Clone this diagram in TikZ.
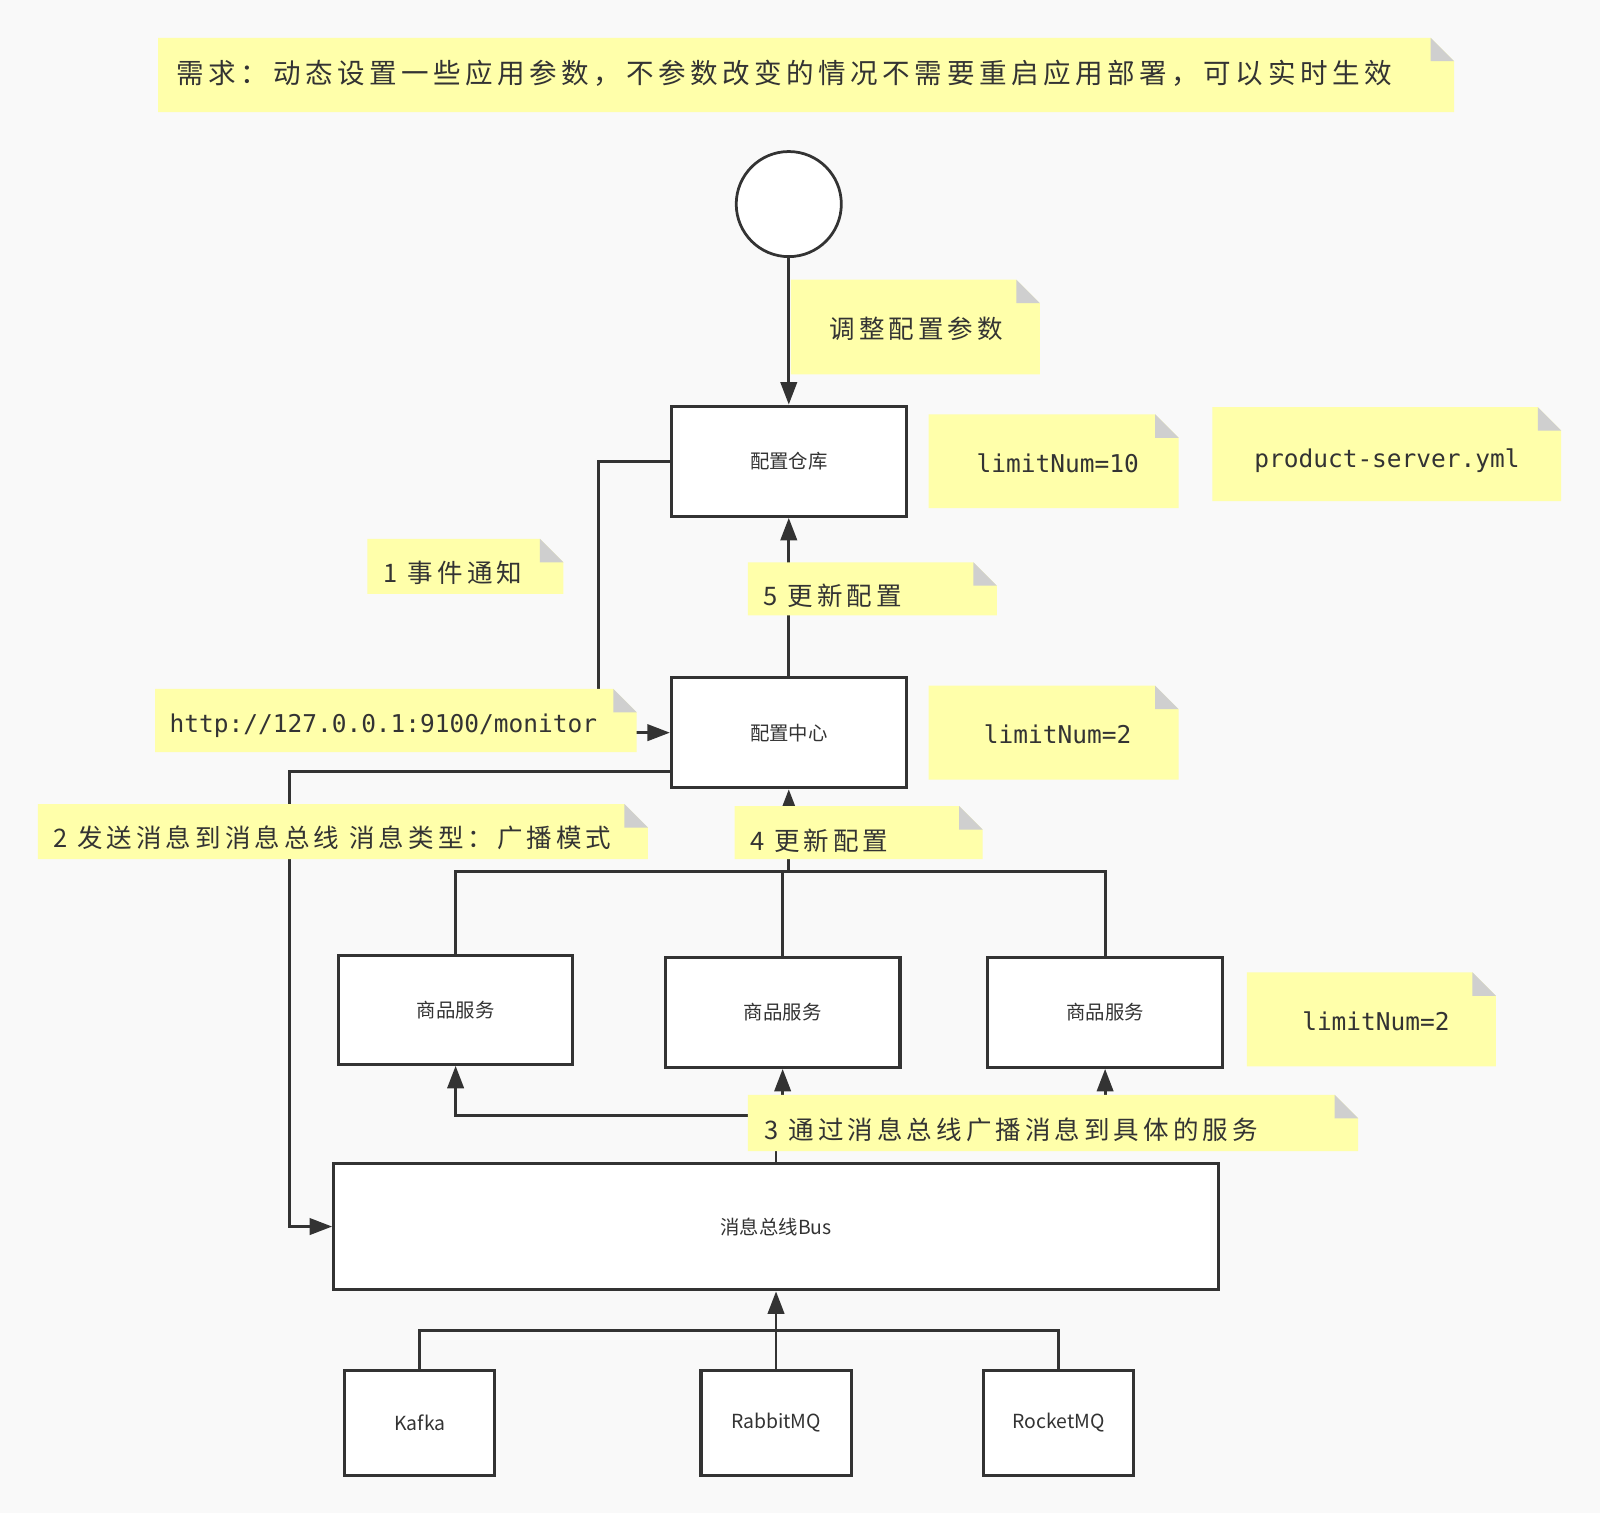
\documentclass[tikz,border=0pt]{standalone}
\usepackage{fontspec}
\usetikzlibrary{arrows.meta,calc}
\newfontfamily\cjkfont{Noto Sans CJK SC}
\newfontfamily\cjknote[LetterSpace=16]{Noto Sans CJK SC}
\newfontfamily\cjktop[LetterSpace=16.5]{Noto Sans CJK SC}
\newfontfamily\monofont{DejaVu Sans Mono}
\definecolor{bgc}{HTML}{F9F9F9}
\definecolor{notey}{HTML}{FFFFAA}
\definecolor{foldg}{HTML}{CFCFCF}
\definecolor{ink}{HTML}{333333}
\tikzset{
  box/.style={draw=ink, fill=white, line width=3pt, inner sep=0pt, text=ink,
    font=\cjkfont\fontsize{19}{22}\selectfont},
  startcirc/.style={circle, draw=ink, fill=white, line width=2.7pt, inner sep=0pt, minimum size=103pt},
  note/.style={inner sep=0pt, outer sep=0pt, draw=none, path picture={
    \fill[notey] (path picture bounding box.south west) -- (path picture bounding box.north west)
      -- ([xshift=-23pt]path picture bounding box.north east)
      -- ([yshift=-23pt]path picture bounding box.north east)
      -- (path picture bounding box.south east) -- cycle;
    \fill[foldg] ([xshift=-23pt]path picture bounding box.north east)
      -- ([xshift=-23pt,yshift=-23pt]path picture bounding box.north east)
      -- ([yshift=-23pt]path picture bounding box.north east) -- cycle;}},
  notetext/.style={inner sep=0pt, text=ink, font=\cjknote\fontsize{25}{30}\selectfont},
  toptext/.style={inner sep=0pt, text=ink, font=\cjktop\fontsize{27}{32}\selectfont},
  monotext/.style={inner sep=0pt, text=ink, font=\monofont\fontsize{24}{28}\selectfont},
  conn/.style={draw=ink, line width=2.8pt},
  arr/.style={conn, -{Triangle[length=22pt,width=16pt]}},
}
\begin{document}
\begin{tikzpicture}[x=1pt,y=-1pt]
\useasboundingbox (0,0) rectangle (1568,1483);
\fill[bgc] (0,0) rectangle (1568,1483);

% main nodes
\node[startcirc] (start) at (773,200) {};
\node[box, minimum width=230pt, minimum height=108pt] (repo) at (773,452) {配置仓库};
\node[box, minimum width=230pt, minimum height=108pt] (cfg) at (773,718) {配置中心};
\node[box, minimum width=229pt, minimum height=107pt] (s1) at (446.5,989.5) {商品服务};
\node[box, minimum width=230pt, minimum height=108pt] (s2) at (767,992) {商品服务};
\node[box, minimum width=230pt, minimum height=108pt] (s3) at (1083,992) {商品服务};
\node[box, minimum width=867pt, minimum height=124pt] (bus) at (760.5,1202) {消息总线Bus};
\node[box, minimum width=147pt, minimum height=103pt] (kafka) at (411.5,1394.5) {Kafka};
\node[box, minimum width=147pt, minimum height=103pt] (rabbit) at (760.5,1394.5) {RabbitMQ};
\node[box, minimum width=147pt, minimum height=103pt] (rocket) at (1037.5,1394.5) {RocketMQ};

% connectors
\coordinate (busin) at (284,1202);
\coordinate (j4) at (773,854);
\coordinate (j3) at (761,1093);
\coordinate (j5) at (760.5,1304);
\draw[arr] (start) -- (repo);
\draw[arr] (repo.west) -- ++(-70,0) |- (cfg.west);
\draw[arr] (cfg) -- (repo);
\draw[arr] ([yshift=-38pt]cfg.west) -| (busin) -- (bus.west);
\draw[conn] (s1.north) |- (j4);
\draw[conn] (s2.north) |- (j4);
\draw[conn] (s3.north) |- (j4);
\draw[arr] (j4) -- (cfg.south);
\draw[conn] (bus.north) -- (bus.north |- j3);
\draw[arr] (j3) -| (s1.south);
\draw[arr] (j3) -| (s2.south);
\draw[arr] (j3) -| (s3.south);
\draw[conn] (kafka.north) |- (j5);
\draw[conn] (rocket.north) |- (j5);
\draw[arr] (rabbit) -- (bus);

% notes
\node[note, minimum width=1270pt, minimum height=73pt] (ntop) at (790,73.5) {};
\node[toptext, anchor=west] (ttop) at (173,71.5) {需求：动态设置一些应用参数，不参数改变的情况不需要重启应用部署，可以实时生效};

\node[note, minimum width=244pt, minimum height=93pt] (nadj) at (897,320.5) {};
\node[notetext] (tadj) at (898,322) {调整配置参数};

\node[note, minimum width=245pt, minimum height=92pt] (nlim10) at (1032.5,452) {};
\node[monotext, anchor=base west] (tlim10) at (957,463) {limitNum=10};

\node[note, minimum width=342pt, minimum height=92pt] (nyml) at (1359,445) {};
\node[monotext, anchor=base west] (tyml) at (1229,458) {product-server.yml};

\node[note, minimum width=192pt, minimum height=54pt] (nevt) at (456,555) {};
\node[notetext, anchor=west] (tevt) at (376,561) {1 事件通知};

\node[note, minimum width=244pt, minimum height=52pt] (nupd5) at (855,577) {};
\node[notetext, anchor=west] (tupd5) at (748,584) {5 更新配置};

\node[note, minimum width=472pt, minimum height=62pt] (nhttp) at (388,706) {};
\node[monotext, anchor=base west] (thttp) at (166,718) {http://127.0.0.1:9100/monitor};

\node[note, minimum width=245pt, minimum height=92pt] (nlim2a) at (1032.5,718) {};
\node[monotext, anchor=base west] (tlim2a) at (964,729) {limitNum=2};

\node[note, minimum width=598pt, minimum height=54pt] (nsend) at (336,815) {};
\node[notetext, anchor=west] (tsend) at (52,821.5) {2 发送消息到消息总线 消息类型：广播模式};

\node[note, minimum width=243pt, minimum height=52pt] (nupd4) at (841.5,816) {};
\node[notetext, anchor=west] (tupd4) at (735,824) {4 更新配置};

\node[note, minimum width=598pt, minimum height=55pt] (nbc) at (1032,1100.5) {};
\node[notetext, anchor=west] (tbc) at (749,1107.5) {3 通过消息总线广播消息到具体的服务};

\node[note, minimum width=244pt, minimum height=92pt] (nlim2b) at (1344,999) {};
\node[monotext, anchor=base west] (tlim2b) at (1276,1010) {limitNum=2};
\end{tikzpicture}
\end{document}
